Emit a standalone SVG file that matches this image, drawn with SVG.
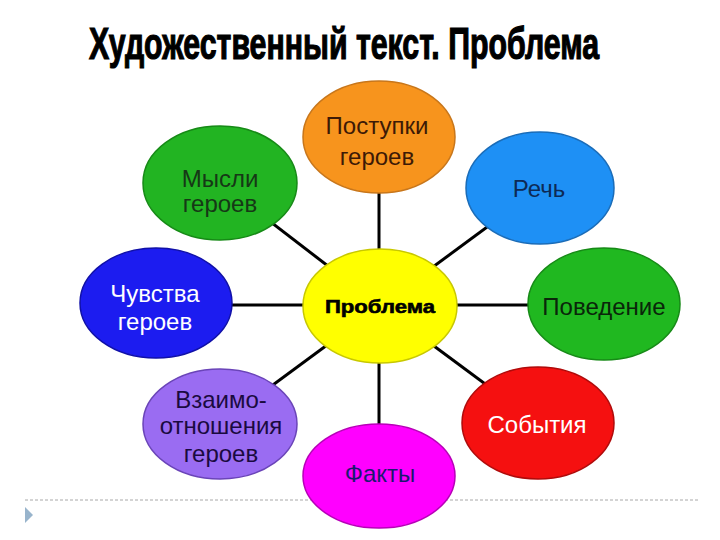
<svg xmlns="http://www.w3.org/2000/svg" width="720" height="540" viewBox="0 0 720 540">
<style>
.lbl{font-family:"Liberation Sans",Arial,sans-serif;font-size:24px;text-anchor:middle}
.conn line{stroke:#000;stroke-width:3}
.title{font-family:"Liberation Sans",Arial,sans-serif;font-weight:bold;font-size:44px}
</style>
<rect width="720" height="540" fill="#fff"/>
<text class="title" x="89" y="59" textLength="510" lengthAdjust="spacingAndGlyphs" fill="#000" stroke="#000" stroke-width="1.2">Художественный текст. Проблема</text>
<g id="footer">
<line x1="25" y1="500" x2="700" y2="500" stroke="#a8a8a8" stroke-width="1" stroke-dasharray="3,2"/>
<polygon points="25,507 33,515 25,523" fill="#98b4cc"/>
</g>
<g id="connectors" class="conn">
<line x1="379" y1="137" x2="379" y2="306"/>
<line x1="379" y1="306" x2="379" y2="476"/>
<line x1="156" y1="305" x2="604" y2="305"/>
<line x1="220" y1="183" x2="380" y2="306"/>
<line x1="540" y1="188" x2="380" y2="306"/>
<line x1="220" y1="424" x2="380" y2="306"/>
<line x1="538" y1="423" x2="380" y2="306"/>
</g>
<g id="n-postupki">
<ellipse cx="379" cy="137" rx="76" ry="56" fill="#f7941d" stroke="#c8761a" stroke-width="1.5"/>
<text class="lbl" x="377" y="134" fill="#3d1a06">Поступки</text>
<text class="lbl" x="377" y="165" fill="#3d1a06">героев</text>
</g>
<g id="n-mysli">
<ellipse cx="220" cy="183" rx="77" ry="57" fill="#22b422" stroke="#168a16" stroke-width="1.5"/>
<text class="lbl" x="220" y="187" fill="#163816">Мысли</text>
<text class="lbl" x="220" y="212" fill="#163816">героев</text>
</g>
<g id="n-rech">
<ellipse cx="540" cy="188" rx="74" ry="56" fill="#1e90f5" stroke="#1a6cb8" stroke-width="1.5"/>
<text class="lbl" x="539" y="197" fill="#0d2a55">Речь</text>
</g>
<g id="n-chuvstva">
<ellipse cx="156" cy="303" rx="76" ry="55" fill="#1c1cf0" stroke="#1010a8" stroke-width="1.5"/>
<text class="lbl" x="155" y="302" fill="#ffffff">Чувства</text>
<text class="lbl" x="155" y="330" fill="#ffffff">героев</text>
</g>
<g id="n-problema">
<ellipse cx="380" cy="306" rx="77" ry="57" fill="#ffff00" stroke="#c8c800" stroke-width="1.5"/>
<text x="380" y="313" text-anchor="middle" font-family="Liberation Sans,Arial,sans-serif" font-weight="bold" font-size="19" textLength="110" lengthAdjust="spacingAndGlyphs" fill="#000" stroke="#000" stroke-width="0.6">Проблема</text>
</g>
<g id="n-povedenie">
<ellipse cx="604" cy="304" rx="76" ry="56" fill="#20b820" stroke="#168a16" stroke-width="1.5"/>
<text class="lbl" x="604" y="315" fill="#0a260a">Поведение</text>
</g>
<g id="n-vzaimo">
<ellipse cx="220" cy="424" rx="77" ry="55" fill="#9a6cf2" stroke="#6a44b8" stroke-width="1.5"/>
<text class="lbl" x="221" y="408" fill="#1a0a40">Взаимо-</text>
<text class="lbl" x="221" y="434" fill="#1a0a40">отношения</text>
<text class="lbl" x="221" y="462" fill="#1a0a40">героев</text>
</g>
<g id="n-sobytiya">
<ellipse cx="538" cy="423" rx="76" ry="56" fill="#f51010" stroke="#b00a0a" stroke-width="1.5"/>
<text class="lbl" x="537" y="433" fill="#ffffff">События</text>
</g>
<g id="n-fakty">
<ellipse cx="379" cy="476" rx="76" ry="52" fill="#ff00ff" stroke="#b800b8" stroke-width="1.5"/>
<text class="lbl" x="380" y="482" fill="#1a1a70">Факты</text>
</g>
</svg>
